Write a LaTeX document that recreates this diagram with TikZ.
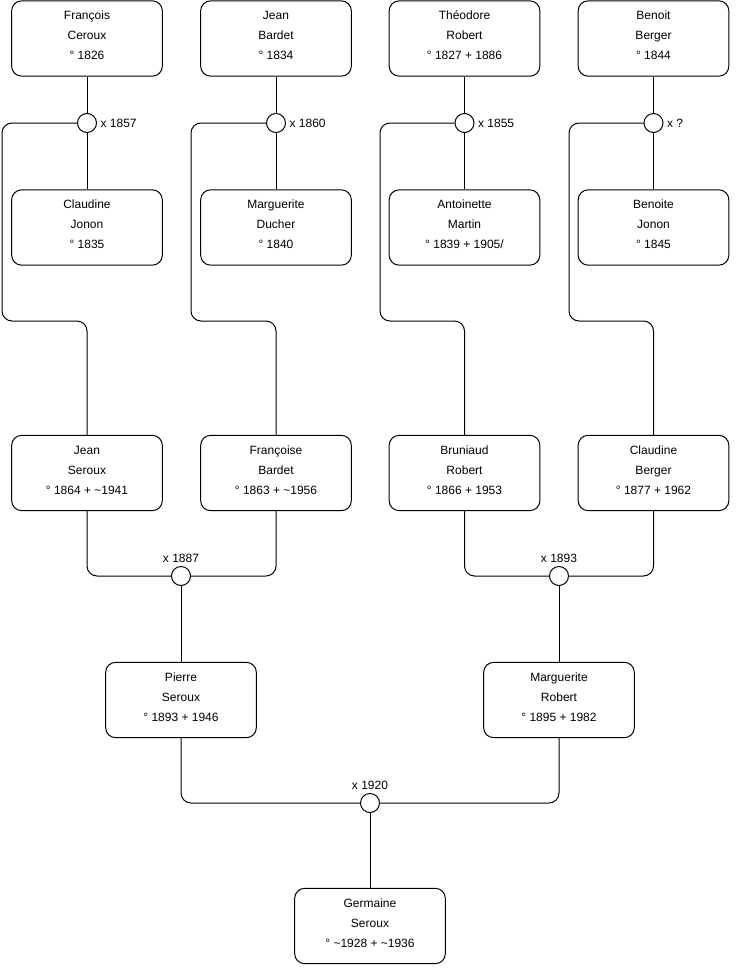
\documentclass[tikz,border=0pt]{standalone}
\usepackage{fontspec}
\setmainfont{Liberation Sans}
\begin{document}
\begin{tikzpicture}[x=0.75pt,y=-0.75pt,
  person/.style={draw=black,line width=0.75pt,rounded corners=7.5pt,minimum width=113pt,minimum height=56.5pt,align=center,font=\fontsize{9}{15}\selectfont,inner sep=0pt,text depth=4.5pt},
  union/.style={draw=black,line width=0.75pt,circle,minimum size=14.25pt,inner sep=0pt,fill=white},
  link/.style={draw=black,line width=0.75pt,rounded corners=7.5pt},
  lab/.style={font=\fontsize{9}{11}\selectfont,inner sep=0pt}]
\useasboundingbox (0,0) rectangle (740,975);
% row 1
\node[person] (fc) at (87,38.5) {François\\Ceroux\\° 1826};
\node[person] (jb) at (276,38.5) {Jean\\Bardet\\° 1834};
\node[person] (tr) at (464.5,38.5) {Théodore\\Robert\\° 1827 + 1886};
\node[person] (bb) at (653.5,38.5) {Benoit\\Berger\\° 1844};
% row 2
\node[person] (cj) at (87,227.5) {Claudine\\Jonon\\° 1835};
\node[person] (md) at (276,227.5) {Marguerite\\Ducher\\° 1840};
\node[person] (am) at (464.5,227.5) {Antoinette\\Martin\\° 1839 + 1905/};
\node[person] (bj) at (653.5,227.5) {Benoite\\Jonon\\° 1845};
% row 3
\node[person] (js) at (87,473) {Jean\\Seroux\\° 1864 + \textasciitilde1941};
\node[person] (fb) at (276,473) {Françoise\\Bardet\\° 1863 + \textasciitilde1956};
\node[person] (br) at (464.5,473) {Bruniaud\\Robert\\° 1866 + 1953};
\node[person] (cb) at (653.5,473) {Claudine\\Berger\\° 1877 + 1962};
% row 4
\node[person] (ps) at (181,700) {Pierre\\Seroux\\° 1893 + 1946};
\node[person] (mr) at (559,700) {Marguerite\\Robert\\° 1895 + 1982};
% row 5
\node[person] (gs) at (370,926) {Germaine\\Seroux\\° \textasciitilde1928 + \textasciitilde1936};
% unions
\node[union] (u1) at (87,123) {};
\node[union] (u2) at (276,123) {};
\node[union] (u3) at (464.5,123) {};
\node[union] (u4) at (653.5,123) {};
\node[union] (u5) at (181,576) {};
\node[union] (u6) at (559,576) {};
\node[union] (u7) at (370,803) {};
% union labels
\node[lab,anchor=west] (l1) at ([xshift=2.5pt]u1.east) {x 1857};
\node[lab,anchor=west] (l2) at ([xshift=2.5pt]u2.east) {x 1860};
\node[lab,anchor=west] (l3) at ([xshift=2.5pt]u3.east) {x 1855};
\node[lab,anchor=west] (l4) at ([xshift=2.5pt]u4.east) {x ?};
\node[lab,anchor=base] (l5) at ([yshift=2.6pt]u5.north) {x 1887};
\node[lab,anchor=base] (l6) at ([yshift=2.6pt]u6.north) {x 1893};
\node[lab,anchor=base] (l7) at ([yshift=2.6pt]u7.north) {x 1920};
% connectors, generation 1
\draw[link] (fc.south) -- (u1.north);
\draw[link] (u1.south) -- (cj.north);
\draw[link] (u1.west) -| (2,321) -| (js.north);
\draw[link] (jb.south) -- (u2.north);
\draw[link] (u2.south) -- (md.north);
\draw[link] (u2.west) -| (191,321) -| (fb.north);
\draw[link] (tr.south) -- (u3.north);
\draw[link] (u3.south) -- (am.north);
\draw[link] (u3.west) -| (380,321) -| (br.north);
\draw[link] (bb.south) -- (u4.north);
\draw[link] (u4.south) -- (bj.north);
\draw[link] (u4.west) -| (569,321) -| (cb.north);
% generation 3
\draw[link] (js.south) |- (u5.west);
\draw[link] (fb.south) |- (u5.east);
\draw[link] (u5.south) -- (ps.north);
\draw[link] (br.south) |- (u6.west);
\draw[link] (cb.south) |- (u6.east);
\draw[link] (u6.south) -- (mr.north);
% generation 4
\draw[link] (ps.south) |- (u7.west);
\draw[link] (mr.south) |- (u7.east);
\draw[link] (u7.south) -- (gs.north);
\end{tikzpicture}
\end{document}
